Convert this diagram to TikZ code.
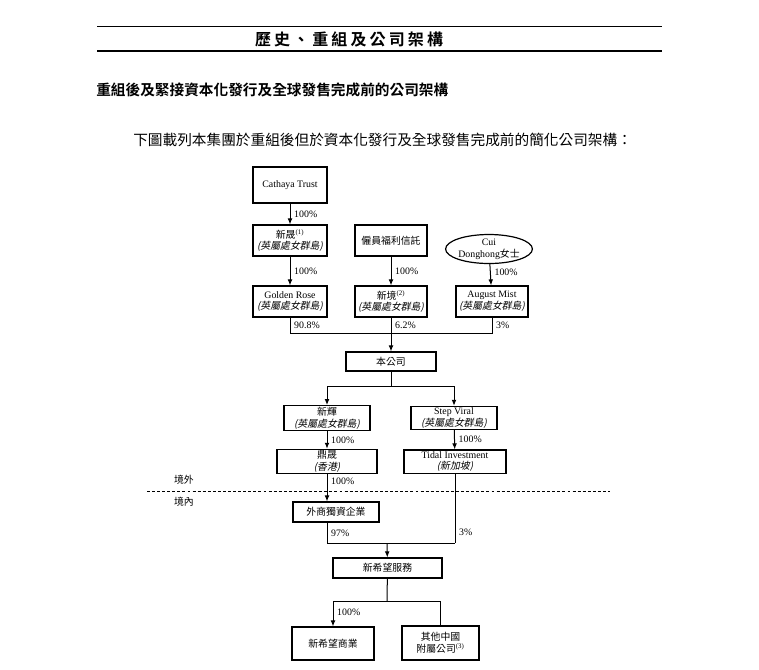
\documentclass[tikz,border=0pt]{standalone}
\usepackage{fontspec}
\setmainfont{Liberation Serif}
\newfontfamily\cjk{Noto Sans CJK TC}
\newfontfamily\cjkbold{Noto Sans CJK TC Bold}
\newfontfamily\cjkit{Noto Sans CJK TC}[FakeSlant=0.2]
\usetikzlibrary{arrows.meta,shapes.geometric}

\newcommand\zh[1]{{\cjk #1}}
\newcommand\bvi{{\cjkit (英屬處女群島)}}

\tikzset{
  wh/.style 2 args={minimum width=#1*0.75pt, minimum height=#2*0.75pt},
  box/.style={draw, line width=0.9pt, align=center, inner sep=1pt,
    font=\fontsize{7.4}{8.8}\selectfont},
  pct/.style={font=\fontsize{7.4}{8}\selectfont, inner xsep=2.8pt, inner ysep=1.5pt},
  link/.style={line width=0.75pt},
  arr/.style={link, -{Latex[length=4.5pt,width=3.6pt]}},
}

\begin{document}
\begin{tikzpicture}[x=0.75pt,y=-0.75pt]
	\useasboundingbox (0,0) rectangle (759,669);

	% page heading
	\draw[line width=0.6pt] (97,26) -- (662,26);
	\draw[line width=1pt] (97,51) -- (662,51);
	\node (heading) at (349,39) {\fontsize{12}{14}\cjkbold
		\makebox[141pt][s]{歷\hfil 史\hfil 、\hfil 重\hfil 組\hfil 及\hfil 公\hfil 司\hfil 架\hfil 構}};
	\node[anchor=west, inner sep=0] (subtitle) at (96,90)
		{\fontsize{11}{13}\cjkbold 重組後及緊接資本化發行及全球發售完成前的公司架構};
	\node[anchor=west, inner sep=0] (intro) at (133,140)
		{\fontsize{11}{13}\cjk 下圖載列本集團於重組後但於資本化發行及全球發售完成前的簡化公司架構：};

	% shareholders
	\node[box, wh={74}{36}] (cathaya) at (290,185) {Cathaya Trust};
	\node[box, wh={74}{31}] (xinsheng) at (290,240.5) {\zh{新晟}\textsuperscript{(1)}\\\bvi};
	\node[box, wh={74}{31}] (golden) at (290,301.5) {Golden Rose\\\bvi};

	\node[box, wh={72}{31}] (ebt) at (391,240.5) {\zh{僱員福利信託}};
	\node[box, wh={72}{31}] (xinjing) at (391,301.5) {\zh{新境}\textsuperscript{(2)}\\\bvi};

	\node[draw, ellipse, line width=0.9pt, align=center, inner sep=0pt, wh={76}{29},
		font=\fontsize{7.4}{8.8}\selectfont] (cui) at (489,249) {Cui\\Donghong\zh{女士}};
	\node[box, wh={72}{31}] (august) at (492,301.5) {August Mist\\\bvi};

	\draw[arr] (cathaya) -- node[pct, right] {100\%} (xinsheng);
	\draw[arr] (xinsheng) -- node[pct, right] {100\%} (golden);
	\draw[arr] (ebt) -- node[pct, right] {100\%} (xinjing);
	\draw[arr] (cui) -- node[pct, right, pos=0.4] {100\%} (august);

	% the company
	\node[box, wh={90}{19}] (company) at (391,361.5) {\zh{本公司}};
	\coordinate (j1) at (391,333);

	\draw[link] (golden.south) -- node[pct, right] {90.8\%} (golden.south |- j1)
		-- (august.south |- j1) -- node[pct, right] {3\%} (august.south);
	\draw[arr] (xinjing) -- node[pct, right, pos=0.22] {6.2\%} (company);

	% offshore subsidiaries
	\node[box, wh={86}{22}] (xinhui) at (327,418) {\zh{新輝}\\\bvi};
	\node[box, wh={86}{22}] (stepviral) at (454,418) {Step Viral\\\bvi};
	\node[box, wh={100}{23}] (dingsheng) at (327,461.5) {\zh{鼎晟}\\{\cjkit (香港)}};
	\node[box, wh={102}{23}] (tidal) at (455,461.5) {Tidal Investment\\{\cjkit (新加坡)}};
	\coordinate (j2) at (391,386);

	\draw[link] (company) -- (j2);
	\draw[arr] (j2) -| (xinhui);
	\draw[arr] (j2) -| (stepviral);
	\draw[arr] (xinhui) -- node[pct, right] {100\%} (dingsheng);
	\draw[arr] (stepviral) -- node[pct, right] {100\%} (tidal);

	% border between offshore and onshore
	\coordinate (dl) at (147,491);
	\coordinate (dr) at (610,491);
	\draw[link, dash pattern=on 2.2pt off 1.6pt] (dl) -- (dr);
	\node[pct, anchor=west] (offshore) at (170,480) {\zh{境外}};
	\node[pct, anchor=west] (onshore) at (170,502) {\zh{境內}};

	% onshore
	\node[box, wh={86}{20}] (wfoe) at (336,512) {\zh{外商獨資企業}};
	\node[box, wh={109}{20}] (service) at (387.5,568) {\zh{新希望服務}};
	\node[box, wh={82}{33}] (commerce) at (333,643.5) {\zh{新希望商業}};
	\node[box, wh={77}{34}] (others) at (440.5,643) {\zh{其他中國}\\\zh{附屬公司}\textsuperscript{(3)}};
	\coordinate (j3) at (387,543);
	\coordinate (j4) at (387,601);

	\draw[arr] (dingsheng.south) -- node[pct, right, pos=0.25] {100\%} (dingsheng.south |- wfoe.north);
	\draw[link] (dingsheng.south |- wfoe.south) -- node[pct, right] {97\%} (dingsheng.south |- j3)
		-- (tidal.south |- j3);
	\draw[link] (tidal.south) -- node[pct, right, pos=0.85] {3\%} (tidal.south |- j3);
	\draw[arr] (j3) -- (service);

	\draw[link] (service) -- (j4);
	\draw[arr] (j4) -| node[pct, right, pos=0.72] {100\%} (commerce);
	\draw[link] (j4) -| (others);
\end{tikzpicture}
\end{document}
